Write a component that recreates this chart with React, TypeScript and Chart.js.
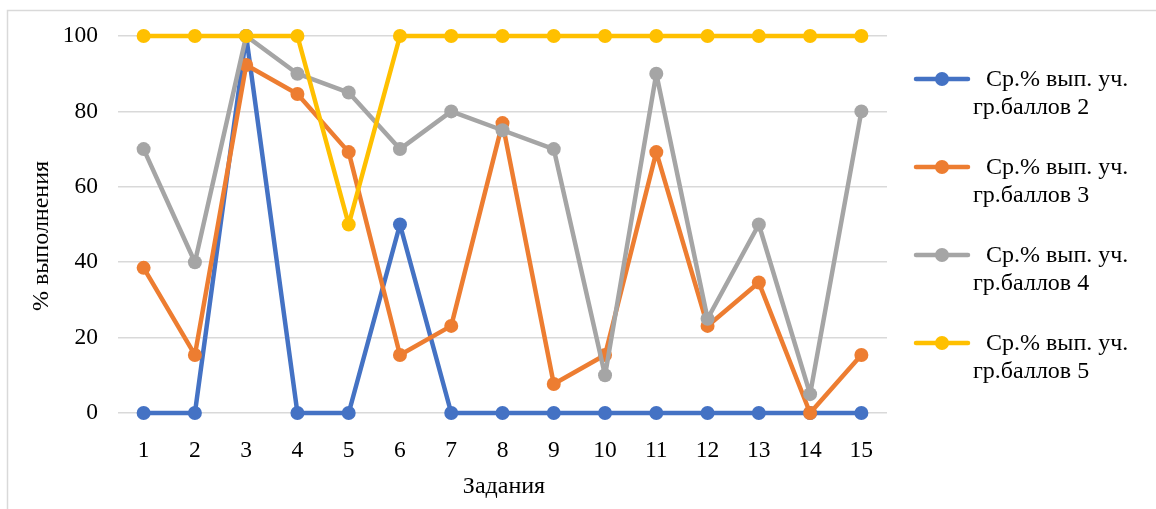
import React, { useEffect, useRef } from "react";
import { Chart, registerables } from "chart.js";

Chart.register(...registerables);

const categories = ["1", "2", "3", "4", "5", "6", "7", "8", "9", "10", "11", "12", "13", "14", "15"];
const group2 = [0, 0, 100, 0, 0, 50, 0, 0, 0, 0, 0, 0, 0, 0, 0];
const group3 = [38.5, 15.4, 92.3, 84.6, 69.2, 15.4, 23.1, 76.9, 7.7, 15.4, 69.2, 23.1, 34.6, 0, 15.4];
const group4 = [70, 40, 100, 90, 85, 70, 80, 75, 70, 10, 90, 25, 50, 5, 80];
const group5 = [100, 100, 100, 100, 50, 100, 100, 100, 100, 100, 100, 100, 100, 100, 100];
const legendFirstLine = "Ср.% вып. уч.";
const legendSecondLines = ["гр.баллов 2", "гр.баллов 3", "гр.баллов 4", "гр.баллов 5"];
const seriesColors = ["#4472C4", "#ED7D31", "#A5A5A5", "#FFC000"];
const yTitle = "% выполнения";
const xTitle = "Задания";

const FONT = "'Liberation Serif', 'Times New Roman', serif";

const overlayPlugin = {
  id: "overlay",
  beforeDraw(chart: any) {
    const ctx = chart.ctx;
    ctx.save();
    ctx.fillStyle = "#ffffff";
    ctx.fillRect(0, 0, chart.width, chart.height);
    ctx.strokeStyle = "#d9d9d9";
    ctx.lineWidth = 1.5;
    ctx.strokeRect(7.5, 10.5, chart.width + 50, chart.height + 50);
    ctx.restore();
  },
  afterDraw(chart: any) {
    const ctx = chart.ctx;
    ctx.save();
    ctx.fillStyle = "#000000";
    ctx.font = `24px ${FONT}`;
    ctx.textAlign = "center";
    ctx.textBaseline = "middle";
    // y axis title
    ctx.save();
    ctx.translate(42, 236);
    ctx.rotate(-Math.PI / 2);
    ctx.fillText(yTitle, 0, 0);
    ctx.restore();
    // x axis title
    ctx.fillText(xTitle, 504, 487);

    // legend
    const datasets = chart.data.datasets;
    datasets.forEach((ds: any, i: number) => {
      const cy = 79 + i * 88;
      ctx.strokeStyle = ds.borderColor;
      ctx.lineWidth = 4.5;
      ctx.lineCap = "round";
      ctx.beginPath();
      ctx.moveTo(916, cy);
      ctx.lineTo(968, cy);
      ctx.stroke();
      ctx.fillStyle = ds.backgroundColor;
      ctx.beginPath();
      ctx.arc(942, cy, 7, 0, Math.PI * 2);
      ctx.fill();
      ctx.fillStyle = "#000000";
      ctx.textAlign = "left";
      ctx.fillText(legendFirstLine, 986, cy + 1);
      ctx.fillText(legendSecondLines[i], 973, cy + 29);
    });
    ctx.restore();
  },
};

export default function App() {
  const ref = useRef<HTMLCanvasElement | null>(null);

  useEffect(() => {
    if (!ref.current) return;
    const all = [group2, group3, group4, group5];
    const chart = new Chart(ref.current, {
      type: "line",
      data: {
        labels: categories,
        datasets: all.map((d, i) => ({
          label: legendFirstLine + " " + legendSecondLines[i],
          data: d,
          borderColor: seriesColors[i],
          backgroundColor: seriesColors[i],
          pointBackgroundColor: seriesColors[i],
          pointBorderColor: seriesColors[i],
          borderWidth: 4.5,
          borderJoinStyle: "round" as any,
          borderCapStyle: "round" as any,
          pointRadius: 7,
          pointBorderWidth: 0,
          tension: 0,
          clip: false as any,
          order: 4 - i,
        })),
      },
      options: {
        responsive: false,
        animation: false,
        layout: { padding: { left: 0, top: 36, right: 269, bottom: 0 } },
        plugins: { legend: { display: false }, tooltip: { enabled: false } },
        scales: {
          x: {
            type: "category",
            offset: true,
            grid: { display: false },
            border: { display: false },
            ticks: { color: "#000", font: { family: FONT, size: 23.5 }, padding: 16, maxRotation: 0 },
            afterFit: (s: any) => {
              s.height = 96;
            },
          },
          y: {
            min: 0,
            max: 100,
            ticks: { stepSize: 20, color: "#000", font: { family: FONT, size: 23.5 }, padding: 20 },
            grid: { color: "#d9d9d9", lineWidth: 1.5, drawTicks: false },
            border: { display: false },
            afterFit: (s: any) => {
              s.width = 118;
            },
          },
        },
      },
      plugins: [overlayPlugin],
    });
    return () => chart.destroy();
  }, []);

  return (
    <div style={{ position: "absolute", left: 0, top: 0, width: 1156, height: 509, background: "#fff" }}>
      <canvas ref={ref} width={1156} height={509} style={{ width: 1156, height: 509, display: "block" }} />
    </div>
  );
}
